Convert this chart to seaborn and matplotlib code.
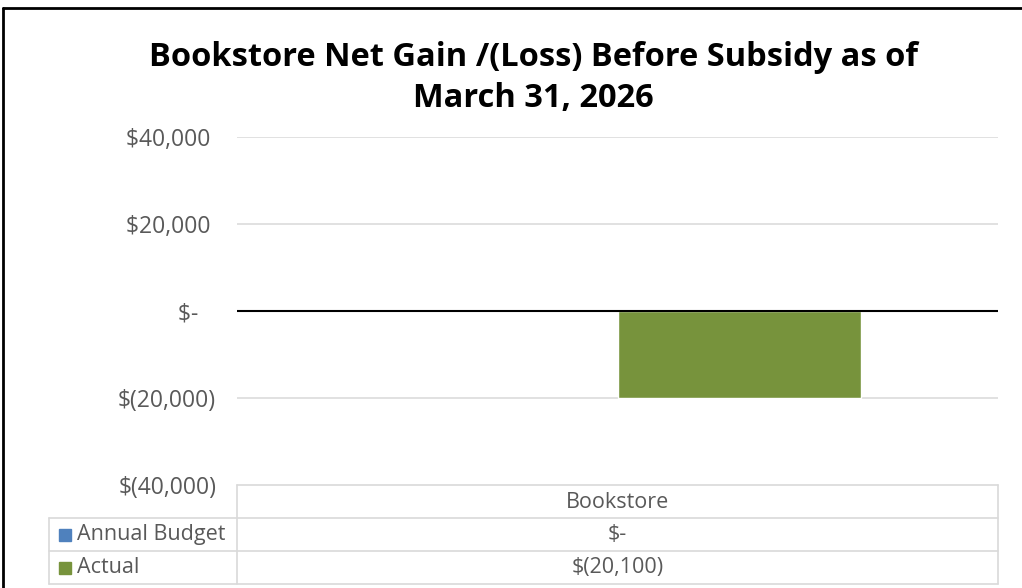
import matplotlib
matplotlib.use("Agg")
import matplotlib.pyplot as plt
from matplotlib.lines import Line2D
from matplotlib.patches import Rectangle
import seaborn as sns
import pandas as pd

# Chart data
categories = ["Bookstore"]
series_names = ["Annual Budget", "Actual"]
annual_budget = [0]
actual = [-20100]
series_colors = ["#4F81BD", "#77933C"]
y_ticks = [-40000, -20000, 0, 20000, 40000]
title_text = "Bookstore Net Gain /(Loss) Before Subsidy as of\nMarch 31, 2026"


def accounting(v):
    if v == 0:
        return "$-"
    if v < 0:
        return "$({:,.0f})".format(-v)
    return "${:,.0f}".format(v)


def accounting_tick(v):
    # accounting layout keeps the digits aligned with the closing parenthesis
    if v == 0:
        return "$-   "
    if v > 0:
        return accounting(v) + " "
    return accounting(v)


df = pd.DataFrame({
    "category": categories * 2,
    "series": [series_names[0]] * len(categories) + [series_names[1]] * len(categories),
    "value": annual_budget + actual,
})

sns.set_theme(style="white")
plt.rcParams["font.family"] = ["Open Sans", "DejaVu Sans"]

W, H = 1022, 588
fig = plt.figure(figsize=(W / 100, H / 100), dpi=100)


def fx(px):
    return px / W


def fy(py):
    return 1 - py / H


x_left, x_right, y_top, y_bot = 237, 998, 137, 485
ax = fig.add_axes([fx(x_left), fy(y_bot), fx(x_right) - fx(x_left), fy(y_top) - fy(y_bot)])

sns.barplot(data=df, x="category", y="value", hue="series", hue_order=series_names,
            palette=series_colors, width=0.641, saturation=1, ax=ax, legend=False)

ax.set_xlim(-0.5, 0.5)
ax.set_ylim(y_ticks[0], y_ticks[-1])
ax.set_yticks(y_ticks)
ax.set_yticklabels([accounting_tick(v) for v in y_ticks], color="#595959", fontsize=16.5)
ax.tick_params(axis="y", length=0, pad=15)
ax.set_xticks([])
ax.set_xlabel("")
ax.set_ylabel("")
for s in ax.spines.values():
    s.set_visible(False)
for v in y_ticks[1:]:
    if v != 0:
        ax.axhline(v, color="#D9D9D9", lw=1.1, zorder=0)
ax.axhline(0, color="#000000", lw=1.5, zorder=3)

# Title
fig.text(0.522, fy(78), title_text, ha="center", va="center", fontsize=23.5,
         fontweight="bold", color="#000000", linespacing=1.35)

# Data table below the plot area
grid_c = "#D9D9D9"
label_left = 49
rows_y = [485, 518, 551, 584]


def hline(x0, x1, y):
    fig.add_artist(Line2D([fx(x0), fx(x1)], [fy(y), fy(y)], color=grid_c, lw=1.2))


def vline(x, y0, y1):
    fig.add_artist(Line2D([fx(x), fx(x)], [fy(y0), fy(y1)], color=grid_c, lw=1.2))


hline(x_left, x_right, rows_y[0])
for y in rows_y[1:]:
    hline(label_left, x_right, y)
vline(label_left, rows_y[1], rows_y[3])
vline(x_left, rows_y[0], rows_y[3])
vline(x_right, rows_y[0], rows_y[3])

txt_c = "#595959"
tbl_fs = 15.5
center_x = fx((x_left + x_right) / 2)
fig.text(center_x, fy((rows_y[0] + rows_y[1]) / 2 + 1), categories[0], ha="center", va="center",
         fontsize=tbl_fs, color=txt_c)
values_by_series = [annual_budget, actual]
for i, name in enumerate(series_names):
    yc = (rows_y[i + 1] + rows_y[i + 2]) / 2
    fig.text(fx(77), fy(yc), name, ha="left", va="center", fontsize=tbl_fs, color=txt_c)
    fig.add_artist(Rectangle((fx(59), fy(yc + 6)), fx(12), 12 / H, color=series_colors[i],
                             transform=fig.transFigure))
    fig.text(center_x, fy(yc), accounting(values_by_series[i][0]), ha="center", va="center",
             fontsize=tbl_fs, color=txt_c)

# Outer frame
fig.add_artist(Line2D([fx(3), 1], [fy(8), fy(8)], color="#000000", lw=2))
fig.add_artist(Line2D([fx(3), fx(3)], [fy(8), 0], color="#000000", lw=2))

fig.savefig("out.png", dpi=100)
